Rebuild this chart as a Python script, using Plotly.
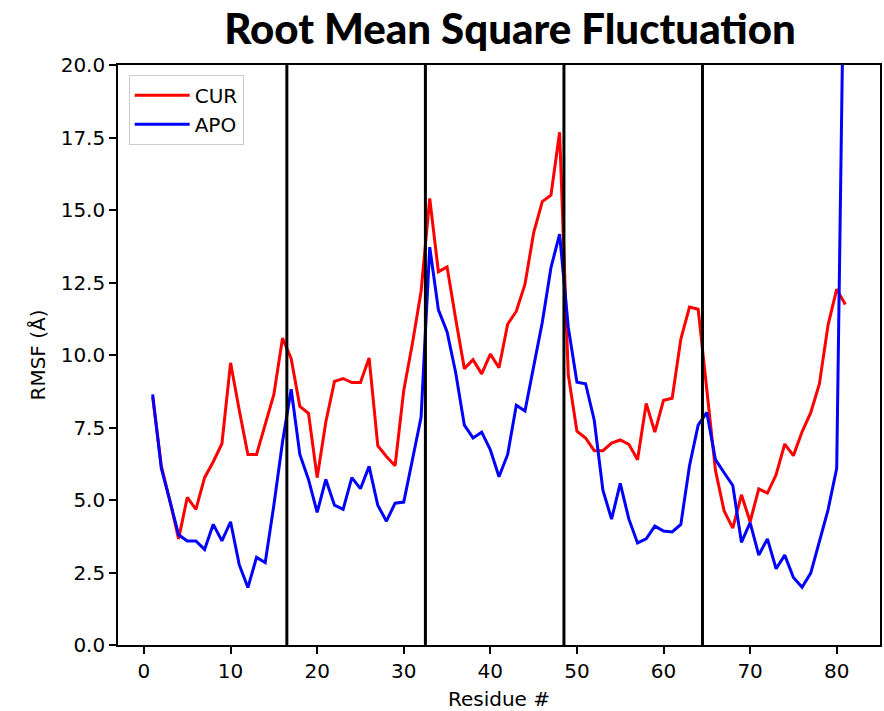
import plotly.graph_objects as go

residues = list(range(1, 82))

cur = [8.55, 6.18, 4.96, 3.66, 5.09, 4.68, 5.77, 6.32, 6.94, 9.73,
       8.1, 6.57, 6.57, 7.62, 8.64, 10.58, 9.87, 8.23, 7.99, 5.77,
       7.69, 9.09, 9.19, 9.05, 9.05, 9.90, 6.87, 6.50, 6.18, 8.78,
       10.4, 12.19, 15.4, 12.87, 13.04, 11.24, 9.53, 9.84, 9.35, 10.03,
       9.56, 11.06, 11.51, 12.44, 14.21, 15.29, 15.51, 17.68, 9.32, 7.37,
       7.14, 6.70, 6.70, 6.96, 7.07, 6.92, 6.39, 8.33, 7.34, 8.44,
       8.51, 10.55, 11.65, 11.58, 8.7, 6.02, 4.62, 4.03, 5.18, 4.25,
       5.38, 5.24, 5.87, 6.93, 6.53, 7.35, 8.01, 9.0, 11.03, 12.27, 11.74]

apo = [8.64, 6.1, 4.96, 3.8, 3.59, 3.59, 3.29, 4.16, 3.59, 4.25,
       2.77, 1.98, 3.02, 2.84, 4.82, 7.0, 8.82, 6.57, 5.71, 4.57,
       5.71, 4.82, 4.68, 5.77, 5.39, 6.16, 4.82, 4.27, 4.89, 4.93,
       6.39, 7.85, 13.72, 11.56, 10.80, 9.39, 7.58, 7.14, 7.34, 6.73,
       5.80, 6.57, 8.27, 8.07, 9.60, 11.13, 13.01, 14.17, 10.96, 9.06,
       9.01, 7.75, 5.34, 4.34, 5.57, 4.34, 3.52, 3.66, 4.10, 3.93,
       3.90, 4.16, 6.18, 7.58, 8.02, 6.39, 5.94, 5.50, 3.54, 4.22,
       3.10, 3.66, 2.63, 3.10, 2.33, 1.99, 2.48, 3.58, 4.66, 6.09, 27.5]

boundaries = [16.5, 32.5, 48.5, 64.5]

series_names = ["CUR", "APO"]
series_colors = ["#ff0000", "#0000ff"]

x_ticks = [0, 10, 20, 30, 40, 50, 60, 70, 80]
y_ticks = [0.0, 2.5, 5.0, 7.5, 10.0, 12.5, 15.0, 17.5, 20.0]

fig = go.Figure()
for name, vals, col in zip(series_names, [cur, apo], series_colors):
    fig.add_trace(go.Scatter(x=residues, y=vals, mode="lines", name=name,
                             line=dict(color=col, width=3)))

for b in boundaries:
    fig.add_shape(type="line", xref="x", yref="paper", x0=b, x1=b, y0=0, y1=1,
                  line=dict(color="black", width=3), layer="above")

font_main = dict(family="DejaVu Sans", size=20, color="black")

fig.update_layout(
    width=884, height=711,
    margin=dict(l=118, r=2, t=65, b=66),
    paper_bgcolor="white", plot_bgcolor="white",
    font=font_main,
    title=dict(text="Root Mean Square Fluctuation",
               font=dict(family="Lato", size=42, color="black", weight=900),
               xref="container", x=0.577, xanchor="center",
               yref="container", y=1 - 29 / 711, yanchor="middle"),
    showlegend=True,
    legend=dict(x=0.014, y=0.983, xanchor="left", yanchor="top",
                bgcolor="rgba(255,255,255,0.8)", bordercolor="#cccccc", borderwidth=1,
                font=dict(family="DejaVu Sans", size=20, color="black"),
                itemwidth=55, tracegroupgap=4),
)

fig.update_xaxes(range=[-3, 85], tickvals=x_ticks, ticks="outside", ticklen=7, tickwidth=1.6,
                 tickcolor="black", showline=True, linecolor="black", linewidth=1.6, mirror=True,
                 showgrid=False, zeroline=False,
                 title=dict(text="Residue #", standoff=10, font=font_main))
fig.update_yaxes(range=[0, 20], tickvals=y_ticks, tickformat=".1f", ticks="outside", ticklen=7,
                 tickwidth=1.6, tickcolor="black", showline=True, linecolor="black", linewidth=1.6,
                 mirror=True, showgrid=False, zeroline=False,
                 title=dict(text="RMSF (Å)", standoff=10, font=font_main))

fig.write_html("out.html", config={"displayModeBar": False},
               post_script="document.body.style.margin='0';")
